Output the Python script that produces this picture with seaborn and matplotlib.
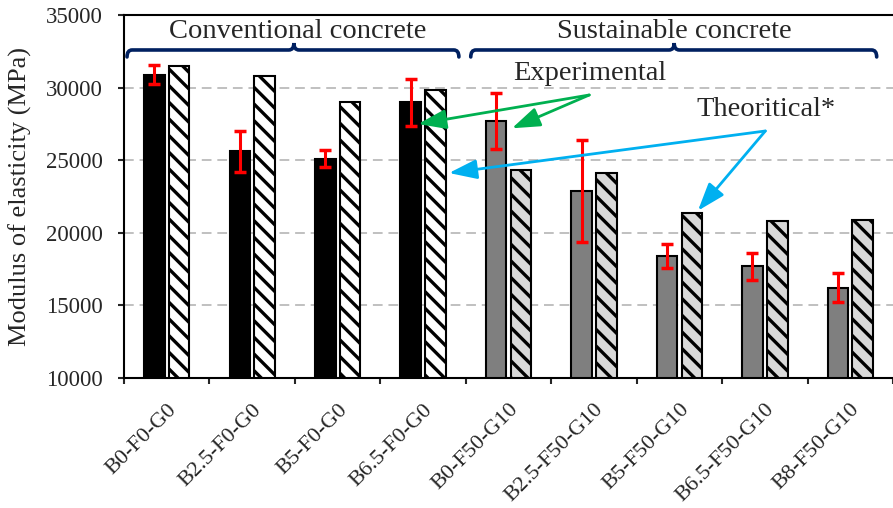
import numpy as np
import pandas as pd
import seaborn as sns
import matplotlib.pyplot as plt
from matplotlib.path import Path
from matplotlib.patches import PathPatch

# data
mixes = [
    "B0-F0-G0", "B2.5-F0-G0", "B5-F0-G0", "B6.5-F0-G0",
    "B0-F50-G10", "B2.5-F50-G10", "B5-F50-G10", "B6.5-F50-G10", "B8-F50-G10",
]
concrete = ["Conventional"] * 4 + ["Sustainable"] * 5
experimental = [30900, 25600, 25100, 29000, 27700, 22900, 18400, 17700, 16200]
exp_error = [630, 1420, 600, 1620, 1960, 3500, 800, 940, 1000]
theoretical = [31500, 30800, 29000, 29800, 24300, 24100, 21350, 20800, 20850]

sns.set_style("ticks")
plt.rcParams["font.family"] = ["Liberation Serif", "DejaVu Serif"]
plt.rcParams["hatch.linewidth"] = 2.4

df = pd.DataFrame({
    "mix": mixes * 2,
    "modulus": experimental + theoretical,
    "source": ["Experimental"] * len(mixes) + ["Theoretical"] * len(mixes),
})

fig = plt.figure(figsize=(8.93, 5.08), dpi=100)
ax = fig.add_axes([0.1389, 0.2559, 0.8611, 0.7146])

sns.barplot(
    data=df, x="mix", y="modulus", hue="source",
    palette=["black", "white"], width=0.58, gap=0.17,
    edgecolor="black", linewidth=1.5, legend=False, ax=ax,
)

# recolour bars: black / grey for experimental, white / light grey hatched for theory
exp_bars, theo_bars = ax.containers[0], ax.containers[1]
for bar, kind in zip(exp_bars, concrete):
    bar.set_facecolor("black" if kind == "Conventional" else "#7f7f7f")
for bar, kind in zip(theo_bars, concrete):
    bar.set_facecolor("white" if kind == "Conventional" else "#d9d9d9")
    bar.set_hatch("\\\\")

xpos = [b.get_x() + b.get_width() / 2 for b in exp_bars]
ax.errorbar(xpos, experimental, yerr=exp_error, fmt="none", ecolor="red",
            elinewidth=2.2, capsize=4.5, capthick=2.5, zorder=4)

ax.set_ylim(10000, 35000)
ax.set_xlim(-0.5, 8.39)
ax.set_yticks(range(10000, 35001, 5000))
ax.yaxis.grid(True, linestyle=(0, (5, 3)), color="#c0c0c0", linewidth=1.4)
ax.set_axisbelow(True)

ax.set_xlabel("")
ax.set_ylabel("Modulus of elasticity (MPa)", fontsize=19, labelpad=10)
ax.set_xticks(range(len(mixes)))
ax.set_xticklabels(mixes, rotation=45, ha="right", rotation_mode="anchor", fontsize=16)
ax.set_xticks(np.arange(-0.5, len(mixes), 1), minor=True)
ax.tick_params(axis="x", which="major", length=0, pad=16)
ax.tick_params(axis="x", which="minor", length=4.5, width=1.5, direction="out")
ax.tick_params(axis="y", length=4.5, width=1.5, pad=11, labelsize=16.5)

for side in ["left", "top", "bottom"]:
    ax.spines[side].set_linewidth(1.5)
    ax.spines[side].set_color("black")
ax.spines["right"].set_visible(False)


def brace(x0, x1, xc, y_mid=32590, y_end=32110, y_tip=33070, dx=0.06):
    verts = [
        (x0, y_end), (x0, y_mid), (x0 + dx, y_mid),
        (xc - dx, y_mid), (xc, y_mid), (xc, y_tip),
        (xc, y_mid), (xc + dx, y_mid),
        (x1 - dx, y_mid), (x1, y_mid), (x1, y_end),
    ]
    codes = [Path.MOVETO, Path.CURVE3, Path.CURVE3,
             Path.LINETO, Path.CURVE3, Path.CURVE3,
             Path.CURVE3, Path.CURVE3,
             Path.LINETO, Path.CURVE3, Path.CURVE3]
    ax.add_patch(PathPatch(Path(verts, codes), fill=False, edgecolor="#002060",
                           linewidth=2.6, capstyle="round", zorder=5))


brace(-0.465, 3.419, 1.488)
brace(3.558, 8.309, 5.939)
ax.text(1.535, 33850, "Conventional concrete", ha="center", va="center", fontsize=20.5)
ax.text(5.939, 33850, "Sustainable concrete", ha="center", va="center", fontsize=20.5)

ax.text(4.945, 30950, "Experimental", ha="center", va="center", fontsize=20.5)
ax.text(7.014, 28480, "Theoritical*", ha="center", va="center", fontsize=20.5)

arrow_green = dict(arrowstyle="-|>,head_length=1.0,head_width=0.35", color="#00b050",
                   lw=2, mutation_scale=17, shrinkA=0, shrinkB=0)
arrow_blue = dict(arrow_green, color="#00b0f0")
ax.annotate("", xy=(2.942, 27493), xytext=(4.945, 29490), arrowprops=arrow_green, zorder=6)
ax.annotate("", xy=(4.040, 27197), xytext=(4.945, 29490), arrowprops=arrow_green, zorder=6)
ax.annotate("", xy=(3.303, 24118), xytext=(7.006, 27011), arrowprops=arrow_blue, zorder=6)
ax.annotate("", xy=(6.217, 21522), xytext=(7.006, 27011), arrowprops=arrow_blue, zorder=6)

fig.savefig("out.png", dpi=100)
